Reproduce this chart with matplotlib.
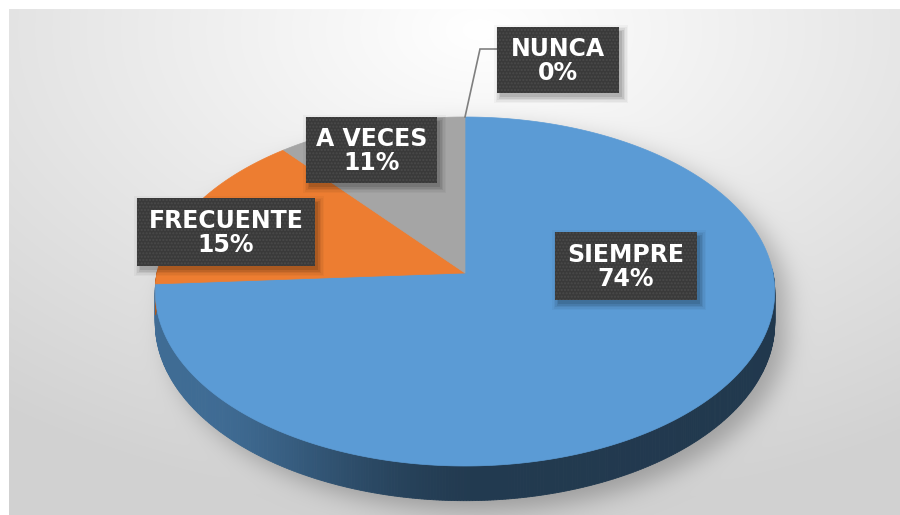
import numpy as np
import matplotlib
matplotlib.use('Agg')
import matplotlib.pyplot as plt
from matplotlib.patches import Polygon, Rectangle
from matplotlib.path import Path
from matplotlib.colors import to_rgb

# ---------------- data ----------------
categories = ['SIEMPRE', 'FRECUENTE', 'A VECES', 'NUNCA']
values = [74, 15, 11, 0]
colors = ['#5b9bd5', '#ed7d31', '#a5a5a5', '#ffc000']

# ---------------- layout ----------------
W, H = 900, 515
fig = plt.figure(figsize=(9, 5.15), dpi=100)
ax = fig.add_axes([0, 0, 1, 1])
ax.set_xlim(0, W)
ax.set_ylim(H, 0)
ax.axis('off')

# pie projection (perspective-tilted disc)
cx, cy = 465.0, 273.0        # projected pie centre
y_far, y_near = 117.0, 466.0  # top/bottom of top face
# Y(v) = (A v + cy)/(1 + C v) with Y(1)=y_far, Y(-1)=y_near
C_ = (y_near + y_far - 2 * cy) / (y_near - y_far)
A_ = y_far * (1 + C_) - cy
a_ = 308.0
thick = 31.0


def proj(th, r=1.0, depth=0.0):
    u, v = r * np.cos(th), r * np.sin(th)
    w = 1 + C_ * v
    return cx + a_ * u / w, (A_ * v + cy) / w + depth / w


# ---------------- background with pie shadow ----------------
x0, y0 = 9, 9
yy, xx = np.mgrid[0:H, 0:W] + 0.5
d = np.sqrt(((xx - 480) / 785) ** 2 + ((yy - 30) / 485) ** 2)
g = 1.0 - 0.18 * np.clip(d, 0, 1)

th_all = np.linspace(0, 2 * np.pi, 400)
tx, ty = proj(th_all)
bx, by = proj(th_all, depth=thick)
off = np.array([12.0, 10.0])
path_top = Path(np.column_stack([tx, ty]) + off)
path_bot = Path(np.column_stack([bx, by]) + off)
pts = np.column_stack([xx.ravel(), yy.ravel()])
mask = (path_top.contains_points(pts) | path_bot.contains_points(pts)).reshape(H, W).astype(float)
sig = 12
k = np.exp(-0.5 * (np.arange(-3 * sig, 3 * sig + 1) / sig) ** 2)
k /= k.sum()
blur = np.apply_along_axis(lambda r: np.convolve(r, k, mode='same'), 1, mask)
blur = np.apply_along_axis(lambda c: np.convolve(c, k, mode='same'), 0, blur)
g = g - 0.22 * blur
img = np.dstack([g, g, g])
img[:y0, :, :] = 1.0
img[:, :x0, :] = 1.0
ax.imshow(img, extent=[0, W, H, 0], interpolation='bilinear', zorder=0)

# ---------------- pie ----------------
total = float(sum(values))
fracs = [v / total for v in values]
start = np.pi / 2
spans = []
for f in fracs:
    spans.append((start, start - f * 2 * np.pi))
    start = start - f * 2 * np.pi


def side_factor(th):
    t = ((th % (2 * np.pi)) - np.pi) / np.pi
    s = np.clip((t - 0.22) / 0.3, 0, 1)
    s = s * s * (3 - 2 * s)
    return 0.70 - 0.31 * s - 0.03 * t


for (s0, s1), col in zip(spans, colors):
    if s0 == s1:
        continue
    n = max(2, int(abs(s1 - s0) / np.radians(0.5)))
    ths = np.linspace(s0, s1, n + 1)
    base = np.array(to_rgb(col))
    for t0, t1 in zip(ths[:-1], ths[1:]):
        tm = 0.5 * (t0 + t1)
        if np.sin(tm) >= 0.02:
            continue
        p0 = proj(t0); p1 = proj(t1)
        q1 = proj(t1, depth=thick); q0 = proj(t0, depth=thick)
        fcol = np.clip(base * side_factor(tm), 0, 1)
        ax.add_patch(Polygon([p0, p1, q1, q0], closed=True, facecolor=fcol,
                             edgecolor=fcol, lw=0.6, zorder=2))

for (s0, s1), col in zip(spans, colors):
    if s0 == s1:
        continue
    n = max(2, int(abs(s1 - s0) / np.radians(0.5)))
    ths = np.linspace(s0, s1, n + 1)
    px, py = proj(ths)
    verts = [(cx, cy)] + list(zip(px, py))
    ax.add_patch(Polygon(verts, closed=True, facecolor=col, edgecolor=col,
                         lw=0.5, zorder=3))

# ---------------- labels ----------------
boxes = [(555, 232, 697, 300), (137, 198, 315, 266),
         (306, 117, 437, 183), (497, 27, 619, 93)]

nx, ny = proj(0.5 * (spans[3][0] + spans[3][1]))
ax.plot([nx, 480, 497], [ny, 49, 49], color='#7f7f7f', lw=1.2, zorder=4,
        solid_joinstyle='miter')

for lab, v, (bx0, by0, bx1, by1) in zip(categories, values, boxes):
    pct = f"{round(v / total * 100)}%"
    for i, al in enumerate([0.10, 0.08, 0.06, 0.04, 0.03]):
        e = i * 1.5
        ax.add_patch(Rectangle((bx0 + 3 - e, by0 + 4 - e), bx1 - bx0 + 2 * e,
                               by1 - by0 + 2 * e, facecolor='black', alpha=al,
                               lw=0, zorder=5))
    ax.add_patch(Rectangle((bx0, by0), bx1 - bx0, by1 - by0, facecolor='#3a3a3a',
                           edgecolor='#4a4a4a', hatch='.....', lw=0, zorder=6))
    ax.text(0.5 * (bx0 + bx1), 0.5 * (by0 + by1) + 1, f"{lab}\n{pct}",
            ha='center', va='center', multialignment='center',
            fontsize=17, fontweight='bold', family='DejaVu Sans',
            color='white', linespacing=1.05, zorder=7)

fig.savefig('out.png', dpi=100)
